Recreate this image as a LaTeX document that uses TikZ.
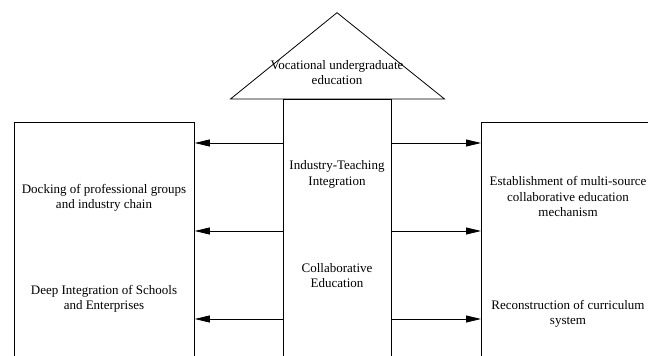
\documentclass[tikz,border=0pt]{standalone}
\usepackage{fontspec}
\setmainfont{Liberation Serif}
\usetikzlibrary{arrows.meta}
\begin{document}
\begin{tikzpicture}[x=1pt,y=-1pt,
  box/.style={draw,line width=0.8pt,anchor=north west,inner sep=0pt},
  lbl/.style={align=center,font=\fontsize{13}{15.5}\selectfont,inner sep=0pt},
  arr/.style={-{Triangle[length=15pt,width=7pt]},line width=0.8pt}]
\useasboundingbox (0,0) rectangle (648,356);
\clip (0,0) rectangle (648,356);
% roof
\coordinate (apex) at (337,12.7);
\coordinate (roofl) at (230.5,99);
\coordinate (roofr) at (444.5,99);
\draw[line width=0.8pt,line join=miter] (apex) -- (roofl) -- (roofr) -- cycle;
\node[lbl] (voc) at (337,72.5) {Vocational undergraduate\\education};
% pillars
\node[box,minimum width=108pt,minimum height=280pt] (col) at (283,99) {};
\node[box,minimum width=180pt,minimum height=260pt] (lbox) at (14,122) {};
\node[box,minimum width=174pt,minimum height=260pt] (rbox) at (481,122) {};
\node[lbl] (itint) at (337,174.5) {Industry-Teaching\\Integration};
\node[lbl] (collab) at (337,275.5) {Collaborative\\Education};
\node[lbl] (dock) at (104,198) {Docking of professional groups\\and industry chain};
\node[lbl] (deep) at (104,299) {Deep Integration of Schools\\and Enterprises};
\node[lbl] (estab) at (568,196.5) {Establishment of multi-source\\collaborative education\\mechanism};
\node[lbl] (recon) at (568,313.7) {Reconstruction of curriculum\\system};
% links
\foreach \y in {143,231,319} {
  \draw[arr] (col.west |- 0,\y) -- (lbox.east |- 0,\y);
  \draw[arr] (col.east |- 0,\y) -- (rbox.west |- 0,\y);
}
\end{tikzpicture}
\end{document}
